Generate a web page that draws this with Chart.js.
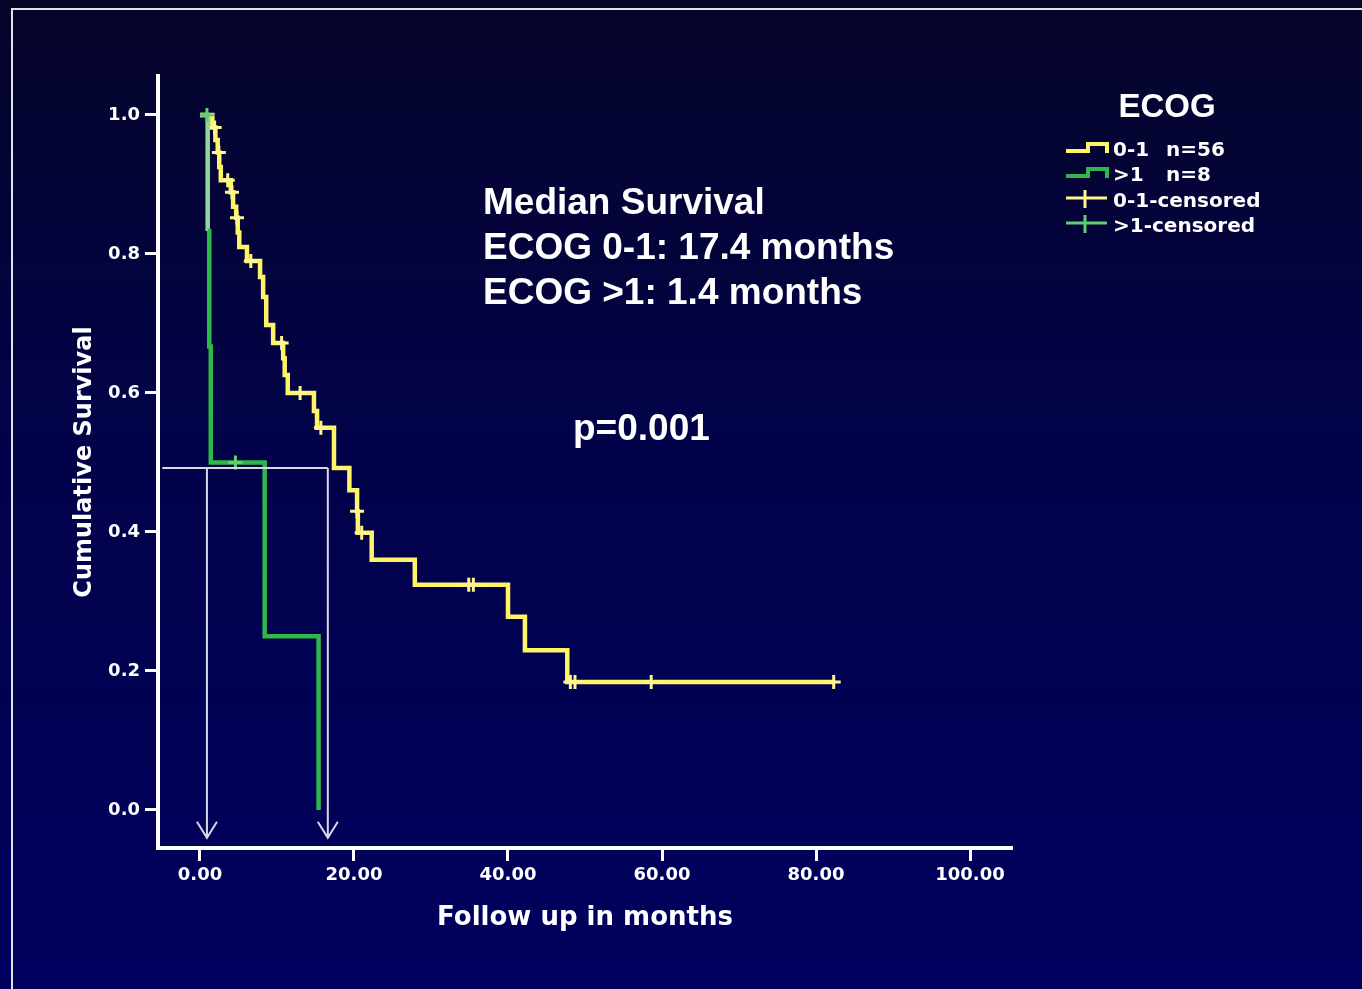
<!DOCTYPE html>
<html>
<head>
<meta charset="utf-8">
<title>Cumulative Survival by ECOG</title>
<script src="https://cdn.jsdelivr.net/npm/chart.js@4.4.1/dist/chart.umd.min.js"></script>
<style>
  html, body { margin: 0; padding: 0; background: #000040; overflow: hidden; }
  canvas { display: block; }
</style>
</head>
<body>
<canvas id="km" width="1362" height="989"></canvas>
<script>
// Kaplan–Meier survival by ECOG performance status
const groupNames = ['0-1', '>1'];
const groupSizes = [56, 8];

// ECOG 0-1: times of each step (months) and survival after the step
const ecogLowTimes = [0, 1.6, 2.0, 2.3, 2.5, 2.7, 4.0, 4.3, 4.7, 4.9, 5.1, 6.1, 7.8, 8.2, 8.6, 9.5,
  10.8, 11.0, 11.4, 14.8, 15.2, 17.4, 19.4, 20.4, 20.5, 22.3, 27.9, 40.0, 42.2, 47.7, 82.5];
const ecogLowSurv = [1.0, 0.982, 0.964, 0.946, 0.925, 0.906, 0.889, 0.868, 0.852, 0.831, 0.810, 0.790,
  0.767, 0.738, 0.698, 0.672, 0.650, 0.626, 0.600, 0.574, 0.550, 0.492, 0.460, 0.430, 0.399, 0.360,
  0.324, 0.278, 0.230, 0.184, 0.184];
const ecogLowCensorTimes = [1.9, 2.45, 3.6, 4.15, 4.8, 6.6, 10.6, 13.0, 15.7, 20.4, 21.0, 34.9, 35.5,
  48.1, 48.7, 58.6, 82.3];
const ecogLowCensorSurv = [0.982, 0.946, 0.906, 0.889, 0.852, 0.790, 0.672, 0.600, 0.550, 0.430, 0.399,
  0.324, 0.324, 0.184, 0.184, 0.184, 0.184];

// ECOG >1
const ecogHighTimes = [0, 1.0, 1.2, 1.4, 8.4, 15.4];
const ecogHighSurv = [1.0, 0.833, 0.667, 0.5, 0.25, 0.0];
const ecogHighCensorTimes = [0.9, 4.6];
const ecogHighCensorSurv = [1.0, 0.5];

// median read-off guides
const medianMonths = [17.4, 1.4];
const medianLevel = 0.492;
const guideTimes = [0.9, 16.6];
const guideStart = -4.9;
const arrowTipSurv = -0.04;
const pValue = '0.001';

const xTickValues = [0, 20, 40, 60, 80, 100];
const yTickValues = [0.0, 0.2, 0.4, 0.6, 0.8, 1.0];

const YELLOW = '#fdf468';
const YELLOW_LIGHT = '#fef68c';
const GREEN = '#2fb84a';
const GREEN_LIGHT = '#8fd99b';
const GREEN_MID = '#5fcf6f';

const pts = (xs, ys) => xs.map((t, i) => ({ x: t, y: ys[i] }));

const backdrop = {
  id: 'backdrop',
  beforeDraw(chart) {
    const { ctx, width, height } = chart;
    ctx.save();
    const g = ctx.createLinearGradient(0, 0, 0, height);
    g.addColorStop(0, '#05052a');
    g.addColorStop(0.45, '#02024a');
    g.addColorStop(1, '#00005f');
    ctx.fillStyle = g;
    ctx.fillRect(0, 0, width, height);
    ctx.strokeStyle = '#e2e2ea';
    ctx.lineWidth = 2;
    ctx.strokeRect(12, 9, width + 20, height + 20);
    ctx.restore();
  }
};

const medianGuides = {
  id: 'medianGuides',
  afterDatasetsDraw(chart) {
    const { ctx, scales: { x, y } } = chart;
    const yLevel = y.getPixelForValue(medianLevel);
    const yTip = y.getPixelForValue(arrowTipSurv);
    const xStart = x.getPixelForValue(guideStart);
    const xEnd = x.getPixelForValue(Math.max(...guideTimes));
    ctx.save();
    ctx.strokeStyle = '#d8d8e8';
    ctx.lineWidth = 2;
    ctx.beginPath();
    ctx.moveTo(xStart, yLevel);
    ctx.lineTo(xEnd, yLevel);
    guideTimes.forEach(t => {
      const px = x.getPixelForValue(t);
      ctx.moveTo(px, yLevel);
      ctx.lineTo(px, yTip);
      ctx.moveTo(px - 10, yTip - 16);
      ctx.lineTo(px, yTip);
      ctx.lineTo(px + 10, yTip - 16);
    });
    ctx.stroke();
    ctx.restore();
  }
};

const notes = {
  id: 'notes',
  afterDraw(chart) {
    const { ctx } = chart;
    ctx.save();
    ctx.fillStyle = '#ffffff';
    ctx.textAlign = 'left';
    ctx.textBaseline = 'alphabetic';
    ctx.font = 'bold 37px "Liberation Sans", Arial, sans-serif';
    const lines = [
      'Median Survival',
      `ECOG ${groupNames[0]}: ${medianMonths[0]} months`,
      `ECOG ${groupNames[1]}: ${medianMonths[1]} months`
    ];
    lines.forEach((s, i) => ctx.fillText(s, 483, 214 + i * 45));
    ctx.fillText('p=' + pValue, 573, 440);

    // legend
    ctx.textAlign = 'center';
    ctx.font = 'bold 33px "Liberation Sans", Arial, sans-serif';
    ctx.fillText('ECOG', 1167, 117);

    ctx.textAlign = 'left';
    ctx.font = 'bold 20px "DejaVu Sans", sans-serif';
    const rows = [
      { kind: 'step', color: YELLOW, text: groupNames[0], n: groupSizes[0], cy: 149 },
      { kind: 'step', color: GREEN, text: groupNames[1], n: groupSizes[1], cy: 174 },
      { kind: 'cens', color: YELLOW_LIGHT, text: groupNames[0] + '-censored', cy: 200 },
      { kind: 'cens', color: GREEN_MID, text: groupNames[1] + '-censored', cy: 225 }
    ];
    rows.forEach(r => {
      ctx.strokeStyle = r.color;
      ctx.beginPath();
      if (r.kind === 'step') {
        ctx.lineWidth = 4;
        ctx.moveTo(1066, r.cy + 2);
        ctx.lineTo(1088, r.cy + 2);
        ctx.lineTo(1088, r.cy - 5);
        ctx.lineTo(1107, r.cy - 5);
        ctx.lineTo(1107, r.cy + 4);
      } else {
        ctx.lineWidth = 3;
        ctx.moveTo(1066, r.cy - 2);
        ctx.lineTo(1107, r.cy - 2);
        ctx.moveTo(1085, r.cy - 10);
        ctx.lineTo(1085, r.cy + 8);
      }
      ctx.stroke();
      ctx.fillStyle = '#ffffff';
      ctx.fillText(r.text, 1113, r.cy + 7);
      if (r.n !== undefined) ctx.fillText('n=' + r.n, 1166, r.cy + 7);
    });
    ctx.restore();
  }
};

const tickFont = { family: 'DejaVu Sans', weight: 'bold', size: 18 };
const titleFontFamily = 'DejaVu Sans';

new Chart(document.getElementById('km'), {
  type: 'line',
  data: {
    datasets: [
      {
        label: groupNames[1] + '-censored',
        data: pts(ecogHighCensorTimes, ecogHighCensorSurv),
        showLine: false,
        pointStyle: 'cross',
        pointRadius: 7,
        pointBorderWidth: 3,
        borderColor: GREEN_MID,
        order: 0
      },
      {
        label: groupNames[1],
        data: pts(ecogHighTimes, ecogHighSurv),
        stepped: true,
        borderColor: GREEN,
        borderWidth: 4.5,
        pointRadius: 0,
        segment: { borderColor: c => (c.p0DataIndex === 0 ? GREEN_LIGHT : undefined) },
        order: 1
      },
      {
        label: groupNames[0] + '-censored',
        data: pts(ecogLowCensorTimes, ecogLowCensorSurv),
        showLine: false,
        pointStyle: 'cross',
        pointRadius: 7,
        pointBorderWidth: 3,
        borderColor: YELLOW_LIGHT,
        order: 2
      },
      {
        label: groupNames[0],
        data: pts(ecogLowTimes, ecogLowSurv),
        stepped: true,
        borderColor: YELLOW,
        borderWidth: 4.5,
        pointRadius: 0,
        order: 3
      }
    ]
  },
  options: {
    responsive: false,
    animation: false,
    devicePixelRatio: 1,
    layout: { padding: { left: 70, right: 350, top: 76, bottom: 55 } },
    plugins: { legend: { display: false }, tooltip: { enabled: false } },
    scales: {
      x: {
        type: 'linear',
        min: -5.4545,
        max: 105.4545,
        afterBuildTicks: s => { s.ticks = xTickValues.map(v => ({ value: v })); },
        afterFit: s => { s.height = 86; },
        ticks: {
          color: '#ffffff', font: tickFont, padding: 4, maxRotation: 0, autoSkip: false,
          callback: v => Number(v).toFixed(2)
        },
        grid: { drawOnChartArea: false, drawTicks: true, tickLength: 13, tickWidth: 3, tickColor: '#ffffff' },
        border: { display: true, color: '#ffffff', width: 4 },
        title: {
          display: true, text: 'Follow up in months', color: '#ffffff',
          font: { family: titleFontFamily, weight: 'bold', size: 26 }, padding: { top: 0, bottom: 0 }
        }
      },
      y: {
        type: 'linear',
        min: -0.0547,
        max: 1.0561,
        afterBuildTicks: s => { s.ticks = yTickValues.map(v => ({ value: v })); },
        afterFit: s => { s.width = 88; },
        ticks: {
          color: '#ffffff', font: tickFont, padding: 5, autoSkip: false,
          callback: v => Number(v).toFixed(1)
        },
        grid: { drawOnChartArea: false, drawTicks: true, tickLength: 13, tickWidth: 3, tickColor: '#ffffff' },
        border: { display: true, color: '#ffffff', width: 4 },
        title: {
          display: true, text: 'Cumulative Survival', color: '#ffffff',
          font: { family: titleFontFamily, weight: 'bold', size: 24 }, padding: { top: 0, bottom: 0 }
        }
      }
    }
  },
  plugins: [backdrop, medianGuides, notes]
});
</script>
</body>
</html>
